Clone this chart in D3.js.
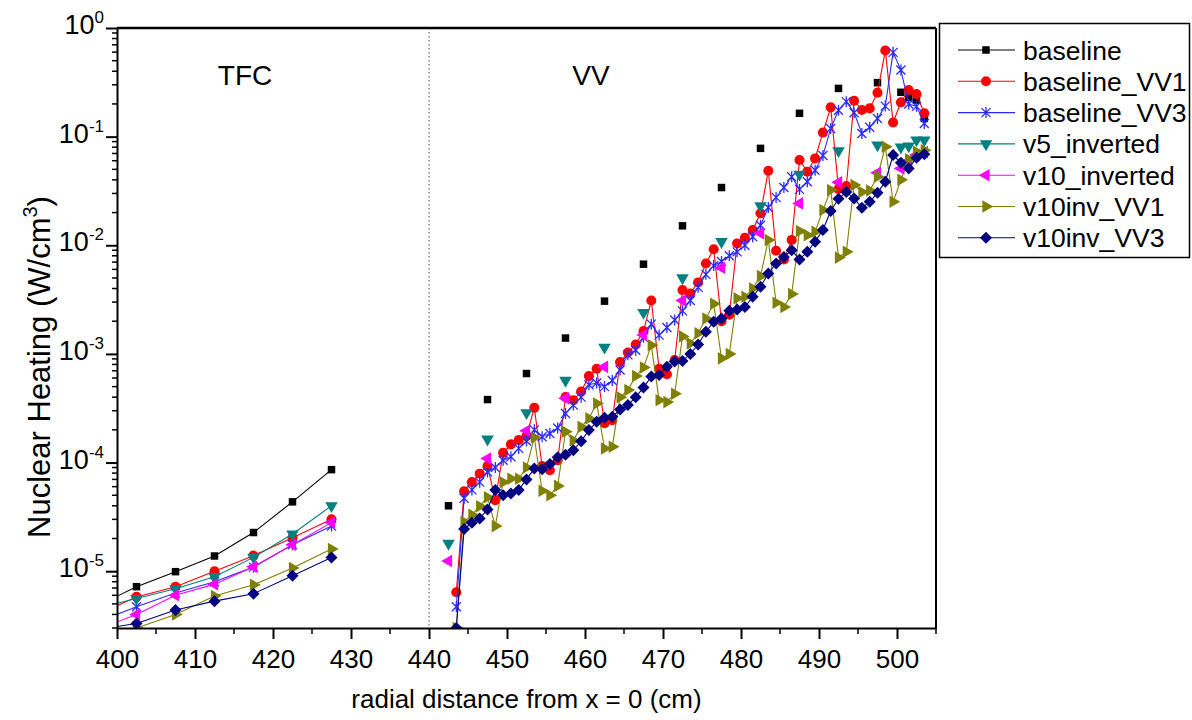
<!DOCTYPE html>
<html>
<head>
<meta charset="utf-8">
<script src="https://cdn.jsdelivr.net/npm/d3@7"></script>
<style>
  body { margin: 0; background: #fff; }
  svg { font-family: "Liberation Sans", Arial, sans-serif; }
</style>
</head>
<body>
<svg id="chart" width="1192" height="720"></svg>
<script>
// ---- data ----
var seriesNames = ['baseline', 'baseline_VV1', 'baseline_VV3', 'v5_inverted', 'v10_inverted', 'v10inv_VV1', 'v10inv_VV3'];

// TFC region, 5 cm steps (first point sits just left of the axis and is clipped)
var tfcX = [397.5, 402.5, 407.5, 412.5, 417.5, 422.5, 427.5];
var baselineTFC = [4.8e-6, 7.2e-6, 9.9e-6, 1.38e-5, 2.27e-5, 4.35e-5, 8.6e-5];
var vv1TFC      = [4.0e-6, 5.8e-6, 7.2e-6, 1.0e-5, 1.39e-5, 2.03e-5, 3.0e-5];
var vv3TFC      = [3.4e-6, 4.7e-6, 6.3e-6, 8.0e-6, 1.09e-5, 1.75e-5, 2.6e-5];
var v5TFC       = [4.6e-6, 5.6e-6, 6.9e-6, 8.9e-6, 1.34e-5, 2.2e-5, 4.0e-5];
var v10TFC      = [2.9e-6, 4.0e-6, 6.0e-6, 7.6e-6, 1.1e-5, 1.75e-5, 2.8e-5];
var v10vv1TFC   = [2.2e-6, 3.0e-6, 4.0e-6, 5.9e-6, 7.5e-6, 1.07e-5, 1.6e-5];
var v10vv3TFC   = [2.9e-6, 3.3e-6, 4.4e-6, 5.3e-6, 6.2e-6, 9.1e-6, 1.34e-5];

// VV region, sparse points (markers only)
var vvSparseX = [442.5, 447.5, 452.5, 457.5, 462.5, 467.5, 472.5, 477.5, 482.5, 487.5, 492.5, 497.5, 500.5, 501.5, 502.5, 503.5];
var baselineVV = [4.0e-5, 3.8e-4, 6.6e-4, 1.4e-3, 3.06e-3, 6.7e-3, 0.0151, 0.034, 0.078, 0.164, 0.278, 0.314, 0.256, 0.23, 0.217, 0.147];
var v5VV       = [1.8e-5, 1.64e-4, 2.87e-4, 5.7e-4, 1.15e-3, 2.4e-3, 5.0e-3, 0.0108, 0.023, 0.045, 0.074, 0.0837, 0.08, 0.082, 0.093, 0.093];
var v10VV      = [1.24e-5, 1.09e-4, 1.96e-4, 3.9e-4, 7.6e-4, 1.49e-3, 3.1e-3, 6.2e-3, 0.0129, 0.0243, 0.038, 0.0466, 0.051, 0.06, 0.068, 0.072];

// VV region, 1 cm steps (lines + markers)
var vvX = [443.5, 444.5, 445.5, 446.5, 447.5, 448.5, 449.5, 450.5, 451.5, 452.5,
  453.5, 454.5, 455.5, 456.5, 457.5, 458.5, 459.5, 460.5, 461.5, 462.5,
  463.5, 464.5, 465.5, 466.5, 467.5, 468.5, 469.5, 470.5, 471.5, 472.5,
  473.5, 474.5, 475.5, 476.5, 477.5, 478.5, 479.5, 480.5, 481.5, 482.5,
  483.5, 484.5, 485.5, 486.5, 487.5, 488.5, 489.5, 490.5, 491.5, 492.5,
  493.5, 494.5, 495.5, 496.5, 497.5, 498.5, 499.5, 500.5, 501.5, 502.5, 503.5];
var vv1VV = [6.4e-6, 5.45e-5, 6.6e-5, 7.9e-5, 9.3e-5, 4.5e-5, 1.23e-4, 1.47e-4, 1.61e-4, 1.75e-4,
  3.2e-4, 9.3e-5, 8.5e-5, 1.05e-4, 4.0e-4, 3.75e-4, 4.5e-4, 6.25e-4, 7.3e-4, 2.3e-4,
  2.45e-4, 8.4e-4, 1.03e-3, 1.22e-3, 1.62e-3, 3.1e-3, 7.3e-4, 6.5e-4, 8.8e-4, 3.87e-3,
  3.6e-3, 4.55e-3, 6.8e-3, 9.2e-3, 2.0e-3, 2.3e-3, 0.0104, 0.0117, 0.0138, 0.0197,
  0.0485, 8.9e-3, 7.4e-3, 0.0112, 0.061, 0.0475, 0.063, 0.109, 0.186, 0.033,
  0.035, 0.214, 0.176, 0.182, 0.254, 0.62, 0.135, 0.207, 0.268, 0.247, 0.164];
var vv3VV = [4.7e-6, 4.7e-5, 5.6e-5, 6.6e-5, 8.2e-5, 9.0e-5, 1.05e-4, 1.13e-4, 1.35e-4, 1.58e-4,
  2.0e-4, 1.73e-4, 1.85e-4, 2.08e-4, 2.83e-4, 3.38e-4, 4.0e-4, 5.2e-4, 5.4e-4, 5.0e-4,
  5.7e-4, 7.1e-4, 9.8e-4, 1.08e-3, 1.42e-3, 1.88e-3, 1.49e-3, 1.75e-3, 2.05e-3, 2.49e-3,
  3.1e-3, 4.1e-3, 5.4e-3, 6.5e-3, 7.1e-3, 8.0e-3, 8.7e-3, 0.010, 0.012, 0.0153,
  0.0223, 0.0276, 0.034, 0.0428, 0.0327, 0.0385, 0.049, 0.067, 0.119, 0.175,
  0.21, 0.166, 0.107, 0.122, 0.147, 0.191, 0.597, 0.41, 0.2, 0.19, 0.132];
var v10vv1VV = [3.0e-6, 2.85e-5, 3.3e-5, 3.97e-5, 4.8e-5, 2.6e-5, 6.6e-5, 7.1e-5, 7.1e-5, 9.0e-5,
  1.7e-4, 5.5e-5, 5.0e-5, 6.1e-5, 1.92e-4, 1.6e-4, 2.13e-4, 2.55e-4, 3.5e-4, 1.35e-4,
  1.4e-4, 4.0e-4, 4.65e-4, 6.25e-4, 7.5e-4, 1.2e-3, 3.75e-4, 3.6e-4, 4.3e-4, 1.45e-3,
  1.25e-3, 1.55e-3, 2.12e-3, 2.9e-3, 9.1e-4, 1.0e-3, 3.25e-3, 3.36e-3, 4.0e-3, 5.2e-3,
  0.0112, 2.96e-3, 2.7e-3, 3.56e-3, 0.0135, 0.0124, 0.0133, 0.0211, 0.0322, 7.7e-3,
  8.7e-3, 0.0358, 0.031, 0.032, 0.0428, 0.0807, 0.0251, 0.04, 0.0618, 0.0726, 0.075];
var v10vv3VV = [3.0e-6, 2.44e-5, 2.79e-5, 3.05e-5, 3.7e-5, 5.6e-5, 5.0e-5, 5.2e-5, 5.6e-5, 7.0e-5,
  8.8e-5, 8.7e-5, 9.7e-5, 1.12e-4, 1.18e-4, 1.3e-4, 1.57e-4, 1.99e-4, 2.37e-4, 2.58e-4,
  2.64e-4, 3.08e-4, 3.38e-4, 4.0e-4, 4.9e-4, 6.2e-4, 6.4e-4, 7.6e-4, 8.5e-4, 8.6e-4,
  1.0e-3, 1.22e-3, 1.6e-3, 1.98e-3, 2.12e-3, 2.5e-3, 2.57e-3, 2.7e-3, 3.36e-3, 4.15e-3,
  5.5e-3, 6.8e-3, 7.8e-3, 9.0e-3, 7.4e-3, 8.7e-3, 0.0108, 0.0138, 0.0207, 0.0268,
  0.031, 0.027, 0.0221, 0.0251, 0.0304, 0.0385, 0.0677, 0.0575, 0.051, 0.064, 0.069];

var xTicks = [400, 410, 420, 430, 440, 450, 460, 470, 480, 490, 500];
var yExponents = [0, -1, -2, -3, -4, -5];

// ---- layout ----
var svg = d3.select('#chart');
var plotL = 117, plotR = 936, plotT = 28, plotB = 628;

var x = d3.scaleLinear().domain([400, 505]).range([plotL, plotR]);
var y = d3.scaleLog().domain([3e-6, 1]).range([plotB, plotT]);

svg.append('clipPath').attr('id', 'plotclip')
  .append('rect').attr('x', plotL).attr('y', plotT).attr('width', plotR - plotL).attr('height', plotB - plotT);

// marker shapes
var symSquare = d3.symbol().type(d3.symbolSquare).size(56)();
var symCircle = d3.symbol().type(d3.symbolCircle).size(80)();
var symTri = d3.symbol().type(d3.symbolTriangle).size(68)();
var symDiamond = 'M0,-6L6,0L0,6L-6,0Z';
var symStar = 'M-4.5,-4.5L4.5,4.5M-4.5,4.5L4.5,-4.5M0,-5.5L0,5.5';

var styles = [
  { color: '#000000', path: symSquare, rot: 0 },
  { color: '#ff0000', path: symCircle, rot: 0 },
  { color: '#2a2aff', path: symStar, rot: 0, stroke: true },
  { color: '#008080', path: symTri, rot: 180 },
  { color: '#ff00ff', path: symTri, rot: -90 },
  { color: '#808000', path: symTri, rot: 90 },
  { color: '#000080', path: symDiamond, rot: 0 }
];

function zip(xs, ys) {
  return xs.map(function (d, i) { return [d, ys[i]]; });
}

// segments: [series index, points, draw line]
var segments = [
  [0, zip(tfcX, baselineTFC), true],
  [0, zip(vvSparseX, baselineVV), false],
  [1, zip(tfcX, vv1TFC), true],
  [1, zip(vvX, vv1VV), true],
  [2, zip(tfcX, vv3TFC), true],
  [2, zip(vvX, vv3VV), true],
  [3, zip(tfcX, v5TFC), true],
  [3, zip(vvSparseX, v5VV), false],
  [4, zip(tfcX, v10TFC), true],
  [4, zip(vvSparseX, v10VV), false],
  [5, zip(tfcX, v10vv1TFC), true],
  [5, zip(vvX, v10vv1VV), true],
  [6, zip(tfcX, v10vv3TFC), true],
  [6, zip(vvX, v10vv3VV), true]
];

var plot = svg.append('g').attr('clip-path', 'url(#plotclip)');

// dotted separator at 440 cm
plot.append('line')
  .attr('x1', x(440)).attr('x2', x(440)).attr('y1', plotT).attr('y2', plotB)
  .attr('stroke', '#555').attr('stroke-width', 1).attr('stroke-dasharray', '1.5,2.5');

var line = d3.line().x(function (d) { return x(d[0]); }).y(function (d) { return y(d[1]); });

function drawMarker(g, st, px, py) {
  var m = g.append('path')
    .attr('d', st.path)
    .attr('transform', 'translate(' + px + ',' + py + ') rotate(' + st.rot + ')');
  if (st.stroke) {
    m.attr('fill', 'none').attr('stroke', st.color).attr('stroke-width', 1.3);
  } else {
    m.attr('fill', st.color);
  }
  return m;
}

segments.forEach(function (seg) {
  var st = styles[seg[0]];
  var g = plot.append('g');
  if (seg[2]) {
    g.append('path').datum(seg[1])
      .attr('d', line)
      .attr('fill', 'none')
      .attr('stroke', st.color)
      .attr('stroke-width', 1.1);
  }
  seg[1].forEach(function (d) {
    drawMarker(g, st, x(d[0]), y(d[1]));
  });
});

// ---- axes ----
var xAxis = d3.axisBottom(x).tickValues(xTicks).tickSize(11).tickSizeOuter(0).tickFormat(d3.format('d'));
var gx = svg.append('g').attr('transform', 'translate(0,' + plotB + ')').call(xAxis);
gx.select('.domain').attr('stroke-width', 2);
gx.selectAll('.tick line').attr('stroke-width', 2);
gx.selectAll('.tick text').attr('font-size', 26).attr('font-family', '"Liberation Sans", Arial, sans-serif').attr('dy', '1.0em').attr('fill', '#000');

var xMinor = xTicks.map(function (d) { return d + 5; });
gx.selectAll('.minor').data(xMinor).enter().append('line')
  .attr('x1', function (d) { return x(d); }).attr('x2', function (d) { return x(d); })
  .attr('y1', 0).attr('y2', 6).attr('stroke', '#000').attr('stroke-width', 1.5);

var yMajor = yExponents.map(function (e) { return Math.pow(10, e); });
var yMinor = [];
[-6, -5, -4, -3, -2, -1].forEach(function (e) {
  for (var k = 2; k <= 9; k++) {
    var v = k * Math.pow(10, e);
    if (v >= 3e-6 && v < 1) yMinor.push(v);
  }
});

var yAxis = d3.axisLeft(y).tickValues(yMajor).tickSize(11).tickSizeOuter(0).tickFormat('');
var gy = svg.append('g').attr('transform', 'translate(' + plotL + ',0)').call(yAxis);
gy.select('.domain').attr('stroke-width', 2);
gy.selectAll('.tick line').attr('stroke-width', 2);
gy.selectAll('.minor').data(yMinor).enter().append('line')
  .attr('x1', -5).attr('x2', 0)
  .attr('y1', function (d) { return y(d); }).attr('y2', function (d) { return y(d); })
  .attr('stroke', '#000').attr('stroke-width', 1.5);

yExponents.forEach(function (e) {
  var t = svg.append('text')
    .attr('x', 104).attr('y', y(Math.pow(10, e)) + 6)
    .attr('text-anchor', 'end').attr('font-size', 27);
  t.append('tspan').text('10');
  t.append('tspan').attr('dy', -11).attr('font-size', 17).text(String(e));
});

// frame top and right
svg.append('line').attr('x1', plotL).attr('x2', plotR).attr('y1', plotT).attr('y2', plotT)
  .attr('stroke', '#000').attr('stroke-width', 2.5);
svg.append('line').attr('x1', plotR).attr('x2', plotR).attr('y1', plotT).attr('y2', plotB)
  .attr('stroke', '#000').attr('stroke-width', 2);

// axis titles
svg.append('text')
  .attr('x', (plotL + plotR) / 2).attr('y', 708)
  .attr('text-anchor', 'middle').attr('font-size', 26)
  .text('radial distance from x = 0 (cm)');

var yt = svg.append('text')
  .attr('transform', 'translate(50,' + 367 + ') rotate(-90)')
  .attr('text-anchor', 'middle').attr('font-size', 31);
yt.append('tspan').text('Nuclear Heating (W/cm');
yt.append('tspan').attr('dy', -13).attr('font-size', 20).text('3');
yt.append('tspan').attr('dy', 13).text(')');

// region labels
svg.append('text').attr('x', 245).attr('y', 85).attr('text-anchor', 'middle').attr('font-size', 28).text('TFC');
svg.append('text').attr('x', 591).attr('y', 85).attr('text-anchor', 'middle').attr('font-size', 28).text('VV');

// ---- legend ----
var lg = svg.append('g');
lg.append('rect').attr('x', 939.5).attr('y', 23.5).attr('width', 250).attr('height', 234)
  .attr('fill', '#fff').attr('stroke', '#000').attr('stroke-width', 1.5);
seriesNames.forEach(function (name, i) {
  var cy = 50 + i * 31.3;
  var st = styles[i];
  lg.append('line').attr('x1', 958).attr('x2', 1015).attr('y1', cy).attr('y2', cy)
    .attr('stroke', st.color).attr('stroke-width', 1.1);
  drawMarker(lg, st, 986, cy);
  lg.append('text').attr('x', 1023).attr('y', cy + 9.5).attr('font-size', 26.5).text(name);
});
</script>
</body>
</html>
